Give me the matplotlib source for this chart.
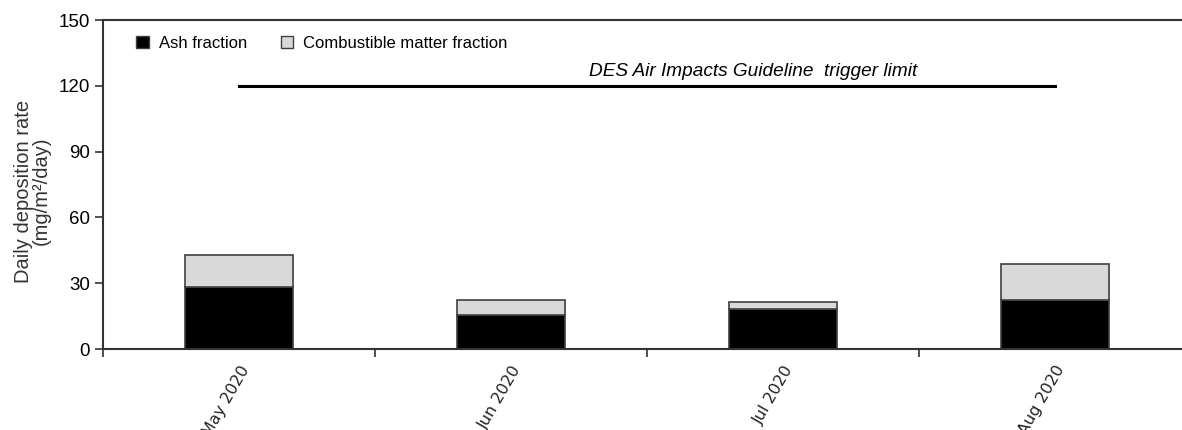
import matplotlib
matplotlib.use("Agg")
import matplotlib.pyplot as plt
import numpy as np

# Data
months = ["May 2020", "Jun 2020", "Jul 2020", "Aug 2020"]
ash = [28.3, 15.5, 18.2, 22.3]
combustible = [14.6, 6.8, 3.2, 16.5]
trigger_limit = 120

fig = plt.figure(figsize=(11.82, 4.30), dpi=100)
ax = fig.add_axes([103 / 1182, (430 - 349) / 430, 1088 / 1182, 329 / 430])

x = np.arange(len(months))
ax.bar(x, ash, width=0.4, color="black", edgecolor="#404040", linewidth=1.2,
       label="Ash fraction")
ax.bar(x, combustible, width=0.4, bottom=ash, color="#d9d9d9", edgecolor="#404040",
       linewidth=1.2, label="Combustible matter fraction")

# trigger limit line from first to last bar centre
ax.plot([x[0], x[-1]], [trigger_limit, trigger_limit], color="black", linewidth=2.2)
ax.text(1.89, trigger_limit + 2.5, "DES Air Impacts Guideline  trigger limit",
        fontsize=13.7, style="italic", family="Liberation Sans", ha="center", va="bottom")

ax.set_xlim(-0.5, 3.5)
ax.set_ylim(0, 150)
ax.set_yticks([0, 30, 60, 90, 120, 150])
ax.set_xticks(np.arange(-0.5, 3.5, 1.0))
ax.set_xticklabels([])
ax.set_xticks(x, minor=True)
ax.set_xticklabels(months, minor=True, rotation=60, ha="right", va="top",
                   rotation_mode="anchor", fontsize=11.5, family="DejaVu Sans", color="#222222")
ax.tick_params(axis="x", which="minor", length=0, pad=10)
ax.tick_params(axis="x", which="major", length=6, direction="out", width=1.2, color="#333333")
ax.tick_params(axis="y", length=6, width=1.2, color="#333333", labelsize=13.5)
for lbl in ax.get_yticklabels():
    lbl.set_family("Liberation Sans")

for side in ["left", "bottom", "top"]:
    ax.spines[side].set_linewidth(1.5)
    ax.spines[side].set_color("#333333")
ax.spines["right"].set_visible(False)

ax.set_ylabel("Daily deposition rate\n(mg/m²/day)", fontsize=14.5, family="Liberation Sans",
              color="#333333", linespacing=0.95)
ax.yaxis.set_label_coords(-0.048, 0.48)

leg = ax.legend(loc="upper left", ncol=2, frameon=False,
                prop={"family": "Liberation Sans", "size": 12},
                handlelength=0.75, handleheight=0.75, handletextpad=0.6, columnspacing=2.0,
                bbox_to_anchor=(0.017, 0.997))
for h in leg.legend_handles:
    h.set_linewidth(1.0)

fig.savefig("out.png", dpi=100)
